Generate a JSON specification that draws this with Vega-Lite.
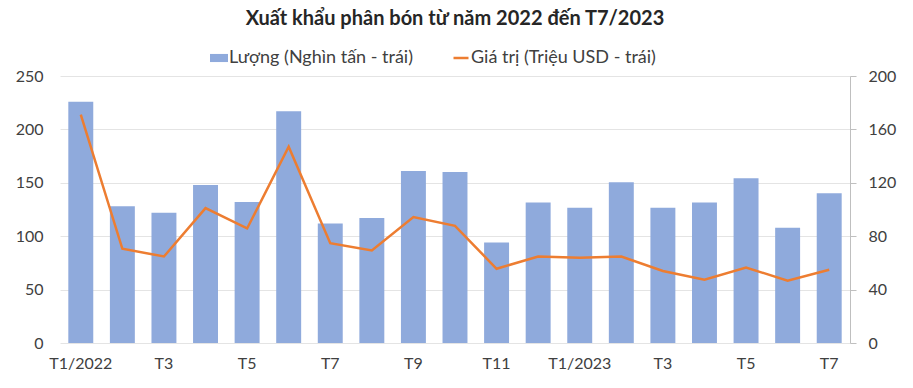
{
  "$schema": "https://vega.github.io/schema/vega-lite/v6.json",
  "autosize": {"type": "none"},
  "width": 790,
  "height": 267,
  "padding": {"left": 60, "top": 76, "right": 63, "bottom": 45},
  "background": "white",
  "config": {
    "view": {"stroke": null},
    "font": "Lato",
    "axis": {"labelFont": "Lato", "labelFontSize": 16, "labelColor": "#404040"}
  },
  "title": {
    "text": "Xuất khẩu phân bón từ năm 2022 đến T7/2023",
    "font": "Lato",
    "fontSize": 20,
    "fontWeight": "bold",
    "color": "#262626",
    "anchor": "middle",
    "offset": 20
  },
  "data": {
    "values": [
      {"m": "T1/2022", "luong": 226, "giatri": 171},
      {"m": "T2/2022", "luong": 128, "giatri": 70.6},
      {"m": "T3/2022", "luong": 122, "giatri": 64.8},
      {"m": "T4/2022", "luong": 148, "giatri": 101},
      {"m": "T5/2022", "luong": 132, "giatri": 85.8},
      {"m": "T6/2022", "luong": 217, "giatri": 147},
      {"m": "T7/2022", "luong": 112, "giatri": 74.8},
      {"m": "T8/2022", "luong": 117, "giatri": 69.3},
      {"m": "T9/2022", "luong": 161, "giatri": 94.3},
      {"m": "T10/2022", "luong": 160, "giatri": 87.8},
      {"m": "T11/2022", "luong": 94, "giatri": 55.6},
      {"m": "T12/2022", "luong": 131.5, "giatri": 64.8},
      {"m": "T1/2023", "luong": 126.6, "giatri": 63.8},
      {"m": "T2/2023", "luong": 150.6, "giatri": 64.8},
      {"m": "T3/2023", "luong": 126.6, "giatri": 53.9},
      {"m": "T4/2023", "luong": 131.5, "giatri": 47.4},
      {"m": "T5/2023", "luong": 154.3, "giatri": 56.6},
      {"m": "T6/2023", "luong": 107.9, "giatri": 46.6},
      {"m": "T7/2023", "luong": 140.3, "giatri": 54.9}
    ]
  },
  "encoding": {
    "x": {
      "field": "m",
      "type": "nominal",
      "sort": null,
      "scale": {"paddingInner": 0.4, "paddingOuter": 0.2},
      "axis": {
        "title": null,
        "labelAngle": 0,
        "domain": false,
        "ticks": false,
        "labelPadding": 12,
        "labelExpr": "(datum.value == 'T1/2022' || datum.value == 'T1/2023') ? datum.value : (indexof(['T3/2022','T5/2022','T7/2022','T9/2022','T11/2022','T3/2023','T5/2023','T7/2023'], datum.value) >= 0 ? split(datum.value, '/')[0] : '')"
      }
    }
  },
  "layer": [
    {
      "mark": {"type": "bar", "color": "#8FAADC"},
      "encoding": {
        "y": {
          "field": "luong",
          "type": "quantitative",
          "scale": {"domain": [0, 250]},
          "axis": {
            "title": null,
            "values": [0, 50, 100, 150, 200, 250],
            "domain": false,
            "ticks": false,
            "labelPadding": 17,
            "gridColor": "#e4e4e4",
            "gridWidth": 1
          }
        },
        "fill": {
          "datum": "Lượng (Nghìn tấn - trái)",
          "type": "nominal",
          "scale": {"range": ["#8FAADC"]},
          "legend": {
            "title": null,
            "orient": "none",
            "legendX": 150,
            "legendY": -27,
            "symbolType": "M-1,-0.45H1V0.45H-1Z",
            "symbolSize": 324,
            "symbolStrokeWidth": 0,
            "labelFont": "Lato",
            "labelFontSize": 18,
            "labelLimit": 400,
            "labelColor": "#404040",
            "labelOffset": 1
          }
        }
      }
    },
    {
      "mark": {"type": "line", "color": "#ED7D31", "strokeWidth": 2.5},
      "encoding": {
        "y": {
          "field": "giatri",
          "type": "quantitative",
          "scale": {"domain": [0, 200]},
          "axis": {
            "title": null,
            "orient": "right",
            "values": [0, 40, 80, 120, 160, 200],
            "grid": false,
            "domain": true,
            "domainColor": "#bfbfbf",
            "ticks": true,
            "tickColor": "#bfbfbf",
            "tickSize": 6,
            "labelPadding": 12
          }
        },
        "stroke": {
          "datum": "Giá trị (Triệu USD - trái)",
          "type": "nominal",
          "scale": {"range": ["#ED7D31"]},
          "legend": {
            "title": null,
            "orient": "none",
            "legendX": 392,
            "legendY": -27,
            "symbolType": "stroke",
            "symbolSize": 225,
            "symbolStrokeWidth": 2.5,
            "labelFont": "Lato",
            "labelFontSize": 18,
            "labelLimit": 400,
            "labelColor": "#404040",
            "labelOffset": 1
          }
        }
      }
    }
  ],
  "resolve": {"scale": {"y": "independent", "fill": "independent", "stroke": "independent"}}
}
